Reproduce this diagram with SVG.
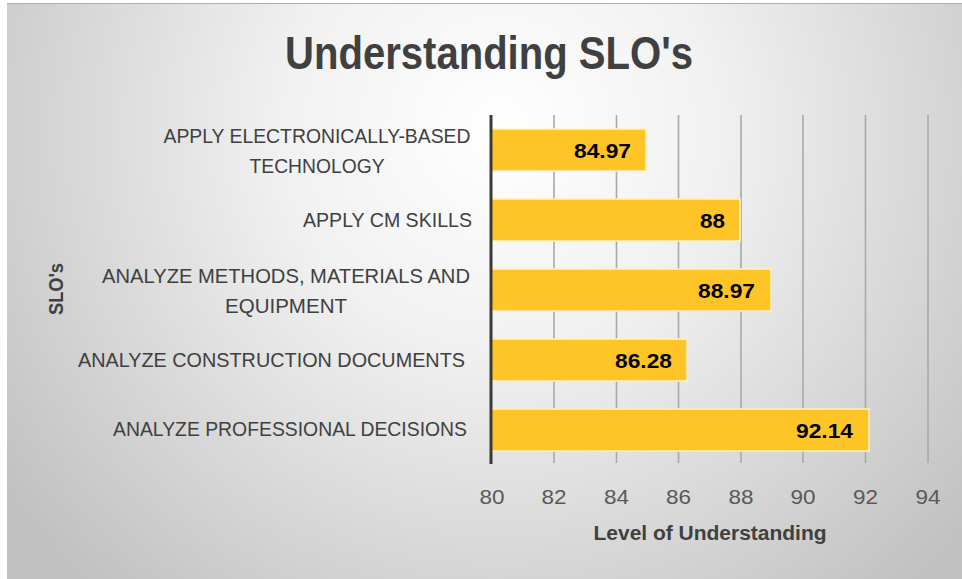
<svg xmlns="http://www.w3.org/2000/svg" width="962" height="579" viewBox="0 0 962 579">
<defs>
<radialGradient id="bg" gradientUnits="userSpaceOnUse" cx="500" cy="130" r="620">
<stop offset="0" stop-color="#ffffff"/>
<stop offset="0.35" stop-color="#f1f1f1"/>
<stop offset="1" stop-color="#c0c0c0"/>
</radialGradient>
<style>
.grid{stroke:#a9a9a9;stroke-width:1.6}
.axis{stroke:#3a3a3a;stroke-width:3}
.bar{fill:#ffc425;stroke:#fff2c4;stroke-width:1.5}
.val{font-family:"Liberation Sans",Arial,sans-serif;font-weight:bold;font-size:21px;fill:#000;text-anchor:end}
.cat{font-family:"Liberation Sans",Arial,sans-serif;font-size:21px;fill:#404040;text-anchor:middle}
.tick{font-family:"Liberation Sans",Arial,sans-serif;font-size:21px;fill:#595959;text-anchor:middle}
.atitle{font-family:"Liberation Sans",Arial,sans-serif;font-weight:bold;font-size:20px;fill:#404040;text-anchor:middle}
</style>
</defs>
<rect x="7" y="3" width="955" height="576" fill="url(#bg)"/>
<line x1="7" y1="3.5" x2="962" y2="3.5" stroke="#b0b0b0" stroke-width="1"/>
<text x="489" y="69" font-family="Liberation Sans,Arial,sans-serif" font-weight="bold" font-size="46" fill="#404040" text-anchor="middle" textLength="408" lengthAdjust="spacingAndGlyphs">Understanding SLO's</text>
<g id="gridlines">
<line class="grid" x1="554" y1="115" x2="554" y2="463"/>
<line class="grid" x1="616.5" y1="115" x2="616.5" y2="463"/>
<line class="grid" x1="678.5" y1="115" x2="678.5" y2="463"/>
<line class="grid" x1="741" y1="115" x2="741" y2="463"/>
<line class="grid" x1="803" y1="115" x2="803" y2="463"/>
<line class="grid" x1="865.5" y1="115" x2="865.5" y2="463"/>
<line class="grid" x1="928" y1="115" x2="928" y2="463"/>
</g>
<g id="bar1">
<rect class="bar" x="491" y="129" width="155" height="42"/>
<text class="val" x="631" y="158" textLength="57" lengthAdjust="spacingAndGlyphs">84.97</text>
<text class="cat" x="317" y="143" textLength="307" lengthAdjust="spacingAndGlyphs">APPLY ELECTRONICALLY-BASED</text>
<text class="cat" x="317" y="173" textLength="135" lengthAdjust="spacingAndGlyphs">TECHNOLOGY</text>
</g>
<g id="bar2">
<rect class="bar" x="491" y="199" width="249" height="42"/>
<text class="val" x="725" y="228" textLength="25" lengthAdjust="spacingAndGlyphs">88</text>
<text class="cat" x="387.5" y="227" textLength="169" lengthAdjust="spacingAndGlyphs">APPLY CM SKILLS</text>
</g>
<g id="bar3">
<rect class="bar" x="491" y="269" width="280" height="42"/>
<text class="val" x="755" y="298" textLength="57" lengthAdjust="spacingAndGlyphs">88.97</text>
<text class="cat" x="286" y="283" textLength="368" lengthAdjust="spacingAndGlyphs">ANALYZE METHODS, MATERIALS AND</text>
<text class="cat" x="286" y="313" textLength="122" lengthAdjust="spacingAndGlyphs">EQUIPMENT</text>
</g>
<g id="bar4">
<rect class="bar" x="491" y="339" width="196" height="42"/>
<text class="val" x="672" y="368" textLength="57" lengthAdjust="spacingAndGlyphs">86.28</text>
<text class="cat" x="271.5" y="367" textLength="387" lengthAdjust="spacingAndGlyphs">ANALYZE CONSTRUCTION DOCUMENTS</text>
</g>
<g id="bar5">
<rect class="bar" x="491" y="409" width="378" height="42"/>
<text class="val" x="853" y="438" textLength="57" lengthAdjust="spacingAndGlyphs">92.14</text>
<text class="cat" x="290" y="436" textLength="354" lengthAdjust="spacingAndGlyphs">ANALYZE PROFESSIONAL DECISIONS</text>
</g>
<g id="axis">
<line class="axis" x1="491" y1="115" x2="491" y2="464"/>
<text class="tick" x="492" y="504" textLength="25" lengthAdjust="spacingAndGlyphs">80</text>
<text class="tick" x="554" y="504" textLength="25" lengthAdjust="spacingAndGlyphs">82</text>
<text class="tick" x="616.5" y="504" textLength="25" lengthAdjust="spacingAndGlyphs">84</text>
<text class="tick" x="678.5" y="504" textLength="25" lengthAdjust="spacingAndGlyphs">86</text>
<text class="tick" x="741" y="504" textLength="25" lengthAdjust="spacingAndGlyphs">88</text>
<text class="tick" x="803" y="504" textLength="25" lengthAdjust="spacingAndGlyphs">90</text>
<text class="tick" x="865.5" y="504" textLength="25" lengthAdjust="spacingAndGlyphs">92</text>
<text class="tick" x="928" y="504" textLength="25" lengthAdjust="spacingAndGlyphs">94</text>
<text class="atitle" x="710" y="540" textLength="233" lengthAdjust="spacingAndGlyphs">Level of Understanding</text>
<text class="atitle" transform="translate(63,289) rotate(-90)" x="0" y="0" textLength="52" lengthAdjust="spacingAndGlyphs">SLO's</text>
</g>
</svg>
